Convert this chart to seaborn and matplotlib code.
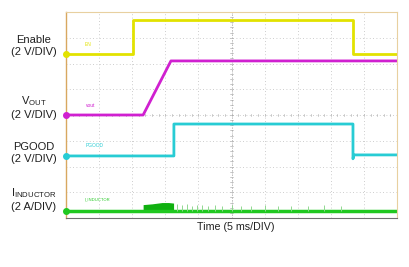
import numpy as np
import pandas as pd
import matplotlib
matplotlib.use("Agg")
import matplotlib.pyplot as plt
import seaborn as sns

# ---- data (x in divisions 0..10, y in divisions 0..8) ----
en_t = [0.0, 2.02, 2.02, 8.67, 8.67, 10.0]
en_v = [6.37, 6.37, 7.69, 7.69, 6.37, 6.37]

vout_t = [0.0, 2.33, 3.17, 10.0]
vout_v = [4.00, 4.00, 6.10, 6.10]

pg_t = [0.0, 3.26, 3.26, 8.67, 8.67, 8.70, 10.0]
pg_v = [2.41, 2.41, 3.65, 3.65, 2.30, 2.45, 2.45]

il_t = [0.0, 10.0]
il_v = [0.27, 0.27]
blob_t = [2.33, 2.6, 2.9, 3.1, 3.25]
blob_v = [0.52, 0.55, 0.60, 0.60, 0.58]
spike_t = [3.35, 3.5, 3.65, 3.8, 3.95, 4.1, 4.3, 4.5, 4.7, 5.0, 5.3, 5.6, 6.0, 6.4, 6.8, 7.3, 7.8, 8.3]
spike_h = [0.55, 0.5, 0.55, 0.48, 0.5, 0.52, 0.48, 0.5, 0.45, 0.5, 0.48, 0.45, 0.5, 0.45, 0.48, 0.45, 0.5, 0.45]

labels = ["Enable\n(2 V/DIV)", "V$_{\\mathrm{OUT}}$\n(2 V/DIV)", "PGOOD\n(2 V/DIV)", "I$_{\\mathrm{INDUCTOR}}$\n(2 A/DIV)"]
xlabel = "Time (5 ms/DIV)"

sns.set_theme(style="white")
plt.rcParams['font.family'] = ['Liberation Sans', 'DejaVu Sans']
plt.rcParams['mathtext.fontset'] = 'custom'
plt.rcParams['mathtext.rm'] = 'Liberation Sans'

fig = plt.figure(figsize=(4.09, 2.67), dpi=100)
ax = fig.add_axes([66/409, 1-218/267, 331/409, 206/267])
ax.set_xlim(0, 10)
ax.set_ylim(0, 8)
ax.set_facecolor("white")

# grid dotted
for gx in range(1, 10):
    ax.axvline(gx, color="#bdbdbd", lw=0.6, ls=(0, (1, 3)), zorder=0)
for gy in range(1, 8):
    ax.axhline(gy, color="#bdbdbd", lw=0.6, ls=(0, (1, 3)), zorder=0)
# center crosshair minor ticks
for t in np.arange(0, 10.01, 0.2):
    ax.plot([t, t], [3.95, 4.05], color="#b0b0b0", lw=0.5, zorder=0)
for t in np.arange(0, 8.01, 0.2):
    ax.plot([4.95, 5.05], [t, t], color="#b0b0b0", lw=0.5, zorder=0)
ax.axvline(5, color="#a8a8a8", lw=0.6, ls=(0, (1, 2)), zorder=0)

yellow = "#e2e200"
magenta = "#d020d0"
cyan = "#28ccd4"
green = "#20c820"

sns.lineplot(x=en_t, y=en_v, ax=ax, color=yellow, lw=2.0, estimator=None, sort=False)
sns.lineplot(x=vout_t, y=vout_v, ax=ax, color=magenta, lw=2.0, estimator=None, sort=False)
sns.lineplot(x=pg_t, y=pg_v, ax=ax, color=cyan, lw=2.0, estimator=None, sort=False)
sns.lineplot(x=il_t, y=il_v, ax=ax, color=green, lw=2.5, estimator=None, sort=False)
ax.fill_between(blob_t, il_v[0], blob_v, color="#10b010", lw=0)
ax.vlines(spike_t, il_v[0], spike_h, color="#90d890", lw=0.7)

# ground markers on left edge
for yv, c in [(en_v[0], yellow), (vout_v[0], magenta), (pg_v[0], cyan), (il_v[0], green)]:
    ax.plot([0], [yv], marker="o", ms=4, color=c, clip_on=False, zorder=5)

# tiny channel tags
ax.text(0.55, en_v[0] + 0.3, "EN", color=yellow, fontsize=3.5)
ax.text(0.6, vout_v[0] + 0.3, "vout", color=magenta, fontsize=3.5)
ax.text(0.6, pg_v[0] + 0.35, "PGOOD", color=cyan, fontsize=3.5)
ax.text(0.55, il_v[0] + 0.4, "I_INDUCTOR", color=green, fontsize=3.0)

ax.set_xticks([])
ax.set_yticks([])
ax.set_xlabel("")
ax.set_ylabel("")
for s in ["top", "right"]:
    ax.spines[s].set_color("#e8d0a0")
    ax.spines[s].set_linewidth(0.8)
ax.spines["left"].set_color("#d8a860")
ax.spines["left"].set_linewidth(1.0)
ax.spines["bottom"].set_color("#707070")
ax.spines["bottom"].set_linewidth(0.8)

# left labels
label_y = [46, 107, 153, 199]
for lab, py in zip(labels, label_y):
    fig.text(34/409, 1 - py/267, lab, ha="center", va="center", fontsize=8,
             color="#202020", linespacing=1.2)

fig.text(236/409, 1 - 227/267, xlabel, ha="center", va="center", fontsize=7.7, color="#202020")

fig.savefig("out.png", dpi=100)
